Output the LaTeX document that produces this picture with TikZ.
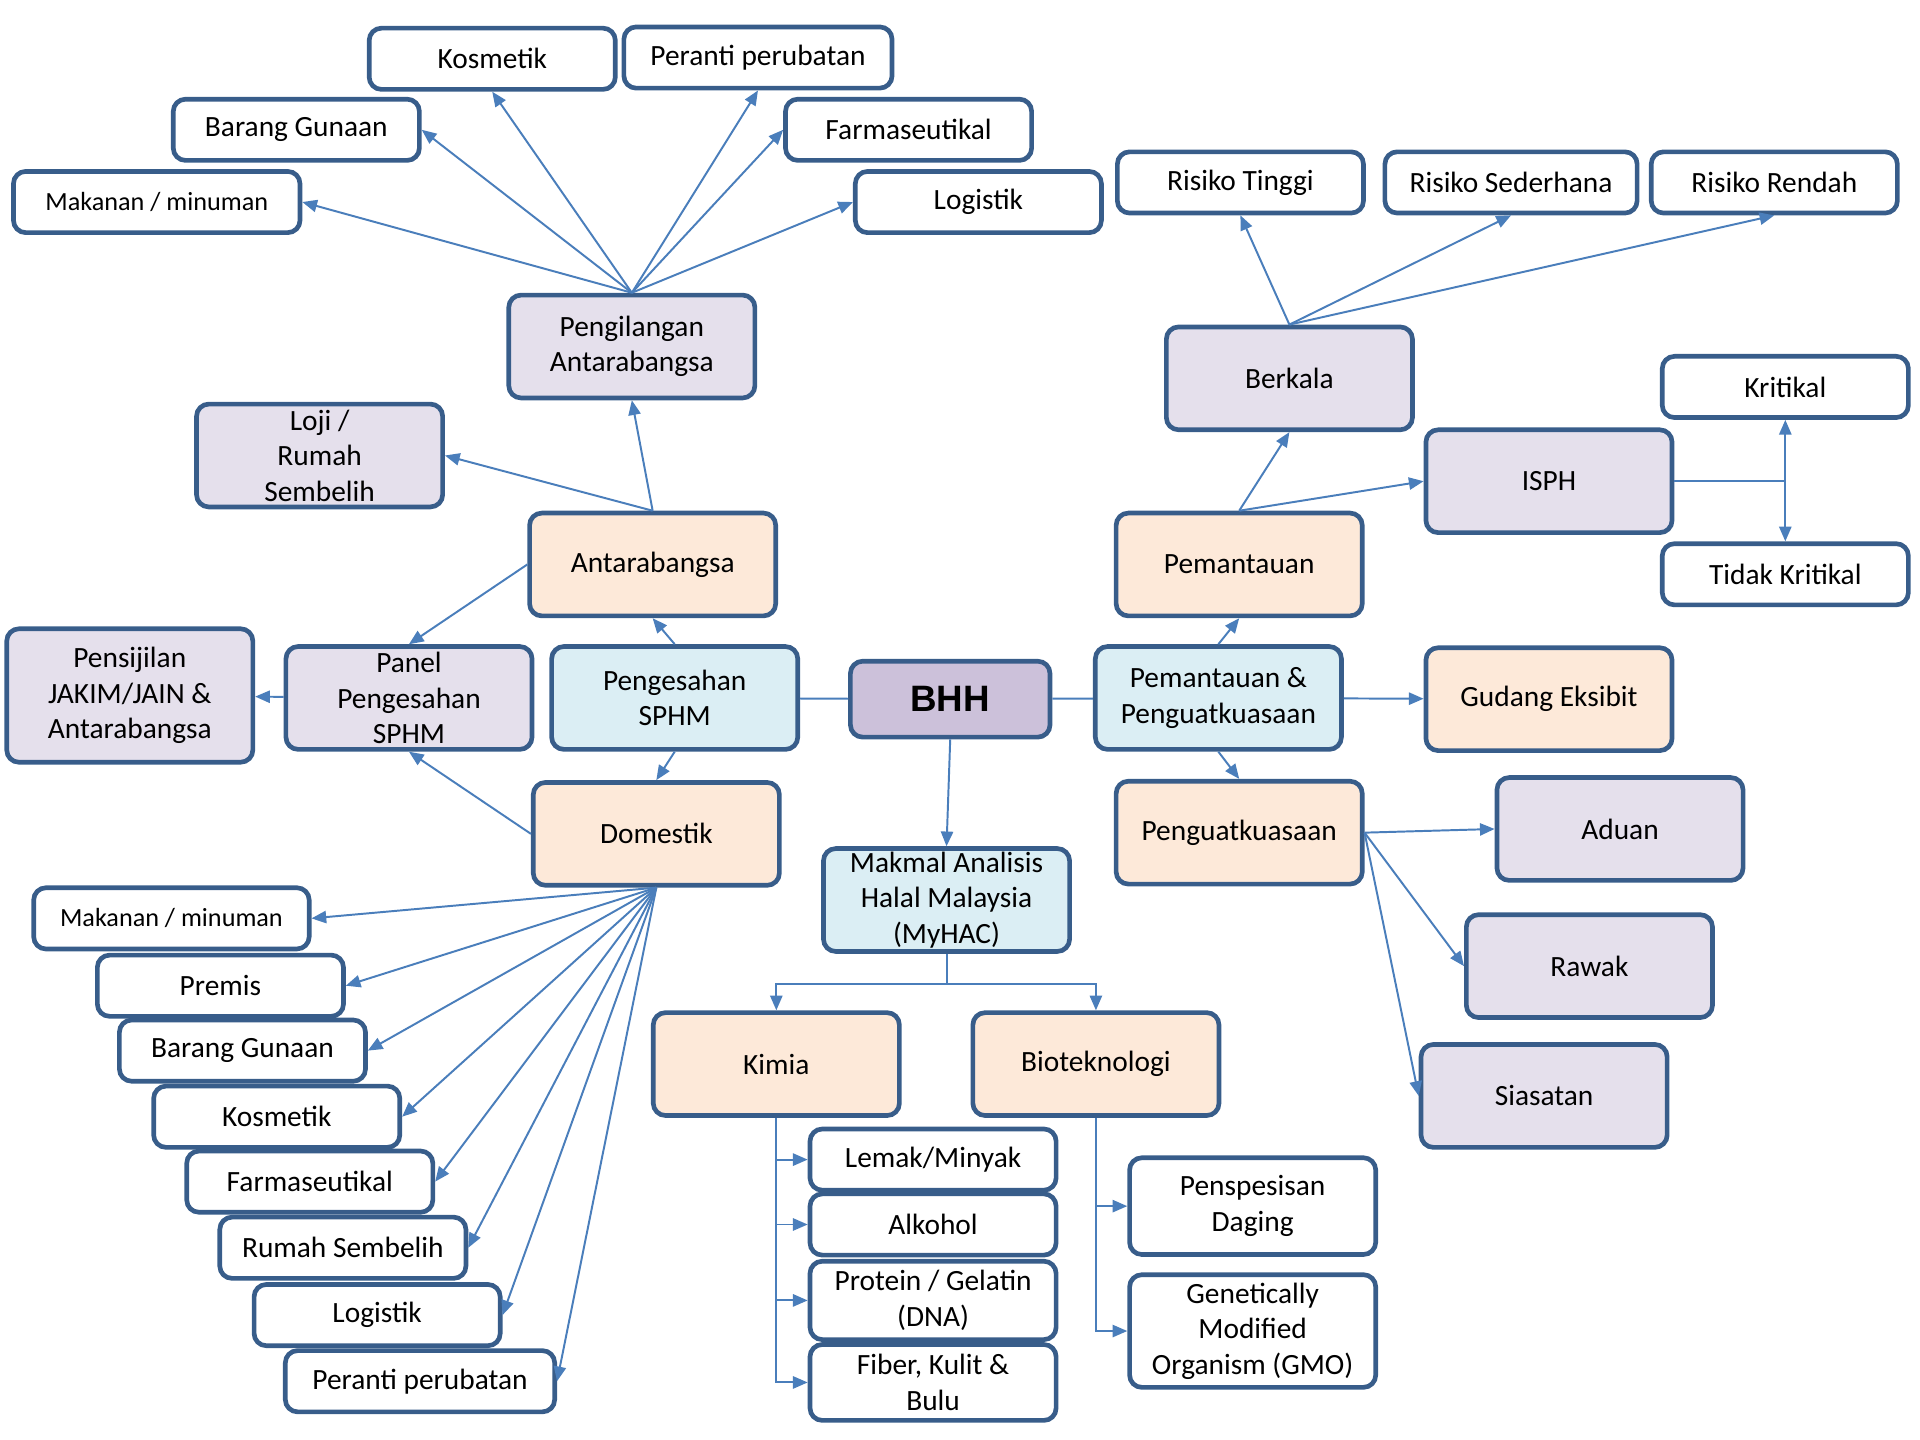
\documentclass[tikz,border=0pt]{standalone}
\usepackage{fontspec}
\setmainfont{Carlito}
\newfontfamily\arialfont{Liberation Sans}
\usetikzlibrary{arrows.meta,positioning}

\definecolor{edgeblue}{HTML}{4A7EBB}
\definecolor{boxline}{HTML}{385D8A}
\definecolor{lavfill}{HTML}{E5E0EC}
\definecolor{bhhfill}{HTML}{CCC1DA}
\definecolor{peachfill}{HTML}{FDE9D9}
\definecolor{bluefill}{HTML}{DBEEF4}

\tikzset{
  blk/.style={draw=boxline, line width=1.9pt, rounded corners=5pt, align=center,
    inner xsep=2pt, inner ysep=0pt, minimum width=100.5pt, minimum height=42pt,
    font=\fontsize{12}{14.5}\selectfont},
  leaf/.style={blk, fill=white, minimum height=25pt},
  lav/.style={blk, fill=lavfill},
  peach/.style={blk, fill=peachfill},
  cyan/.style={blk, fill=bluefill},
  small/.style={font=\fontsize{10.7}{13}\selectfont},
  arr/.style={draw=edgeblue, line width=0.8pt, -{Triangle[length=6pt,width=5pt]}},
  link/.style={draw=edgeblue, line width=0.8pt}
}

\begin{document}
\begin{tikzpicture}[x=0.5pt,y=-0.5pt]
  \useasboundingbox (0,0) rectangle (1568,1176);

  % Nodes
  \node[blk, fill=bhhfill, minimum width=81.5pt, minimum height=31pt,
        font=\arialfont\bfseries\fontsize{15}{18}\selectfont] (bhh) at (776,571) {BHH};

  \node[cyan] (sphm) at (551,570) {Pengesahan\\SPHM};
  \node[cyan] (pp) at (995,570) {Pemantauan \&\\Penguatkuasaan};
  \node[cyan] (myhac) at (773,735) {Makmal Analisis\\Halal Malaysia\\(MyHAC)};

  \node[peach] (antara) at (533,461) {Antarabangsa};
  \node[peach] (dom) at (536,681) {Domestik};
  \node[peach] (pem) at (1012,461) {Pemantauan};
  \node[peach] (pk) at (1012,680) {Penguatkuasaan};
  \node[peach] (gudang) at (1265,571) {Gudang Eksibit};
  \node[peach] (kimia) at (634,869) {Kimia};
  \node[peach] (bio) at (895,869) {Bioteknologi};

  \node[lav] (pengil) at (516,283) {Pengilangan\\Antarabangsa};
  \node[lav] (loji) at (261,372) {Loji /\\Rumah\\Sembelih};
  \node[lav] (panel) at (334,570) {Panel\\Pengesahan\\SPHM};
  \node[lav, minimum height=54.5pt] (jakim) at (106,568) {Pensijilan\\JAKIM/JAIN \&\\Antarabangsa};
  \node[lav] (berkala) at (1053,309) {Berkala};
  \node[lav] (isph) at (1265,393) {ISPH};
  \node[lav] (aduan) at (1323,677) {Aduan};
  \node[lav] (rawak) at (1298,789) {Rawak};
  \node[lav] (siasat) at (1261,895) {Siasatan};

  % international manufacturing
  \node[leaf] (kos_i) at (402,48) {Kosmetik};
  \node[leaf, minimum width=109.5pt] (per_i) at (619,47) {Peranti perubatan};
  \node[leaf] (bg_i) at (242,106) {Barang Gunaan};
  \node[leaf] (far_i) at (742,106) {Farmaseutikal};
  \node[leaf, small, minimum width=117pt] (mak_i) at (128,165) {Makanan / minuman};
  \node[leaf] (log_i) at (799,165) {Logistik};

  % risk
  \node[leaf] (tinggi) at (1013,149) {Risiko Tinggi};
  \node[leaf, minimum width=103pt] (sederh) at (1234,149) {Risiko Sederhana};
  \node[leaf] (rendah) at (1449,149) {Risiko Rendah};
  \node[leaf] (krit) at (1458,316) {Kritikal};
  \node[leaf] (tkrit) at (1458,469) {Tidak Kritikal};

  % domestic
  \node[leaf, small, minimum width=112.5pt] (mak_d) at (140,750) {Makanan / minuman};
  \node[leaf] (premis) at (180,805) {Premis};
  \node[leaf] (bg_d) at (198,858) {Barang Gunaan};
  \node[leaf] (kos_d) at (226,912) {Kosmetik};
  \node[leaf] (far_d) at (253,965) {Farmaseutikal};
  \node[leaf] (rumah) at (280,1019) {Rumah Sembelih};
  \node[leaf] (log_d) at (308,1074) {Logistik};
  \node[leaf, minimum width=110pt] (per_d) at (343,1128) {Peranti perubatan};

  % lab
  \node[leaf] (lemak) at (762,947) {Lemak/Minyak};
  \node[leaf] (alkohol) at (762,1000) {Alkohol};
  \node[leaf, minimum height=32pt] (protein) at (762,1062) {Protein / Gelatin\\(DNA)};
  \node[leaf, minimum height=31pt] (fiber) at (762,1129) {Fiber, Kulit \&\\Bulu};
  \node[leaf, minimum height=39.5pt] (daging) at (1023,985) {Penspesisan\\Daging};
  \node[leaf, minimum height=46pt] (gmo) at (1023,1087) {Genetically\\Modified\\Organism (GMO)};

  % Edges
  \draw[link] (bhh) -- (sphm);
  \draw[link] (bhh) -- (pp);
  \draw[arr] (bhh.south) -- (myhac.north);

  \draw[arr] (sphm.north) -- (antara.south);
  \draw[arr] (sphm.south) -- (dom.north);
  \draw[arr] (antara.north) -- (pengil.south);
  \draw[arr] (antara.north) -- (loji.east);
  \draw[arr] (antara.west) -- (panel.north);
  \draw[arr] (dom.west) -- (panel.south);
  \draw[arr] (panel) -- (jakim);

  \draw[arr] (pengil.north) -- (mak_i.east);
  \draw[arr] (pengil.north) -- (bg_i.east);
  \draw[arr] (pengil.north) -- (kos_i.south);
  \draw[arr] (pengil.north) -- (per_i.south);
  \draw[arr] (pengil.north) -- (far_i.west);
  \draw[arr] (pengil.north) -- (log_i.west);

  \foreach \leafname in {mak_d,premis,bg_d,kos_d,far_d,rumah,log_d,per_d}
    \draw[arr] (dom.south) -- (\leafname.east);

  \draw[arr] (pp.north) -- (pem.south);
  \draw[arr] (pp.south) -- (pk.north);
  \draw[arr] (pp) -- (gudang);

  \draw[arr] (pem.north) -- (berkala.south);
  \draw[arr] (pem.north) -- (isph.west);
  \foreach \leafname in {tinggi,sederh,rendah}
    \draw[arr] (berkala.north) -- (\leafname.south);

  \coordinate (fork) at (isph.east -| krit.south);
  \draw[link] (isph.east) -- (fork);
  \draw[arr] (fork) -- (krit.south);
  \draw[arr] (fork) -- (tkrit.north);

  \foreach \leafname in {aduan,rawak,siasat}
    \draw[arr] (pk.east) -- (\leafname.west);

  \draw[arr] (myhac.south) -- ++(0,25) -| (kimia.north);
  \draw[arr] (myhac.south) -- ++(0,25) -| (bio.north);
  \foreach \leafname in {lemak,alkohol,protein,fiber}
    \draw[arr] (kimia.south) |- (\leafname.west);
  \foreach \leafname in {daging,gmo}
    \draw[arr] (bio.south) |- (\leafname.west);
\end{tikzpicture}
\end{document}
